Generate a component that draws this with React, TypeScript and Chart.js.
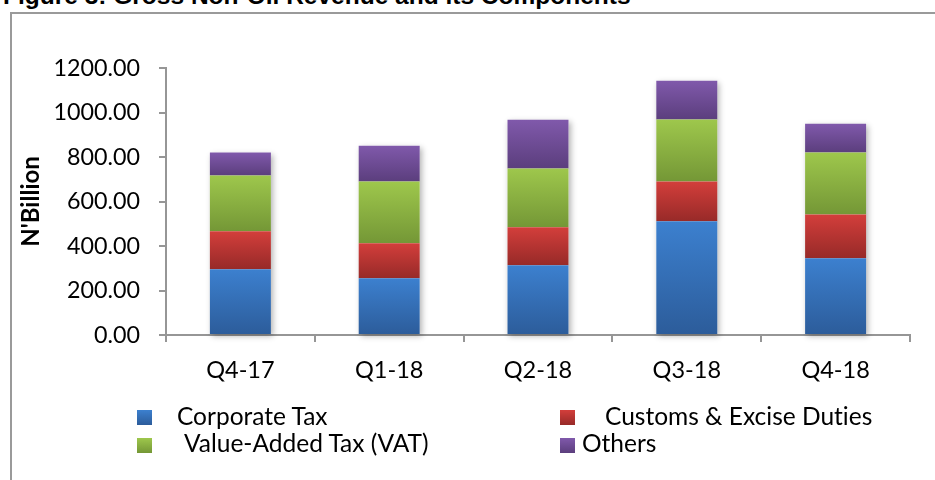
import React, { useEffect, useRef } from "react";
import { Chart, registerables } from "chart.js";

Chart.register(...registerables);

const categories = ["Q4-17", "Q1-18", "Q2-18", "Q3-18", "Q4-18"];
const corporateTax = [296, 255, 314, 511, 345];
const customsExcise = [170, 157, 170, 179, 197];
const valueAddedTax = [251, 278, 264, 278, 278];
const others = [103, 161, 219, 175, 129];

const seriesNames = [
  "Corporate Tax",
  "Customs & Excise Duties",
  "Value-Added Tax (VAT)",
  "Others",
];
const seriesValues = [corporateTax, customsExcise, valueAddedTax, others];
const seriesColors: [string, string][] = [
  ["#3c80cf", "#2c5c9a"],
  ["#d33e3b", "#972a28"],
  ["#9ec74c", "#749736"],
  ["#8059ab", "#5b3e7d"],
];

const yMin = 0;
const yMax = 1200;
const yStep = 200;

const titleText = "Figure 3: Gross Non-Oil Revenue and its Components";
const yTitle = "N'Billion";

function gradientFor(di: number) {
  return (ctx: any) => {
    const [topC, botC] = seriesColors[di];
    if (ctx.type !== "data") return topC;
    const chart = ctx.chart;
    const y = chart.scales && chart.scales.y;
    if (!y || !chart.chartArea) return topC;
    const i = ctx.dataIndex;
    let base = 0;
    for (let d = 0; d < di; d++) base += seriesValues[d][i];
    const top = base + seriesValues[di][i];
    const y0 = y.getPixelForValue(top);
    const y1 = y.getPixelForValue(base);
    if (!isFinite(y0) || !isFinite(y1) || y0 === y1) return topC;
    const g = chart.ctx.createLinearGradient(0, y0, 0, y1);
    g.addColorStop(0, topC);
    g.addColorStop(1, botC);
    return g;
  };
}

const shadowPlugin = {
  id: "barShadow",
  beforeDatasetsDraw(chart: any) {
    const first = chart.getDatasetMeta(0).data;
    const last = chart.getDatasetMeta(seriesValues.length - 1).data;
    const c = chart.ctx;
    c.save();
    c.shadowColor = "rgba(0,0,0,0.30)";
    c.shadowBlur = 6;
    c.shadowOffsetX = 2;
    c.shadowOffsetY = 2;
    c.fillStyle = "#ffffff";
    for (let i = 0; i < first.length; i++) {
      const b = first[i];
      const t = last[i];
      if (!b || !t) continue;
      c.fillRect(b.x - b.width / 2, t.y, b.width, b.base - t.y);
    }
    c.restore();
  },
};

export default function App() {
  const ref = useRef<HTMLCanvasElement>(null);

  useEffect(() => {
    if (!ref.current) return;
    const axisColor = "#969696";
    const chart = new Chart(ref.current, {
      type: "bar",
      data: {
        labels: categories,
        datasets: seriesValues.map((vals, di) => ({
          label: seriesNames[di],
          data: vals,
          backgroundColor: gradientFor(di),
          borderWidth: 0,
          categoryPercentage: 1,
          barPercentage: 0.41,
        })),
      },
      plugins: [shadowPlugin],
      options: {
        animation: false,
        responsive: false,
        devicePixelRatio: 1,
        layout: { padding: { left: 0, right: 25, top: 68, bottom: 0 } },
        plugins: {
          legend: { display: false },
          tooltip: { enabled: false },
          title: { display: false },
        },
        scales: {
          x: {
            stacked: true,
            afterFit: (s: any) => {
              s.height = 145;
            },
            grid: {
              offset: true,
              drawOnChartArea: false,
              drawTicks: true,
              tickLength: 7,
              color: axisColor,
              lineWidth: 2,
            },
            border: { display: true, color: axisColor, width: 2 },
            ticks: {
              color: "#000",
              padding: 14,
              font: { family: "Lato", size: 23.5 },
              maxRotation: 0,
            },
          },
          y: {
            stacked: true,
            min: yMin,
            max: yMax,
            afterFit: (s: any) => {
              s.width = 166;
            },
            grid: {
              drawOnChartArea: false,
              drawTicks: true,
              tickLength: 7,
              color: axisColor,
              lineWidth: 2,
            },
            border: { display: true, color: axisColor, width: 2 },
            ticks: {
              stepSize: yStep,
              color: "#000",
              padding: 19,
              font: { family: "Lato", size: 23.3 },
              callback: (v: any) => Number(v).toFixed(2),
            },
            title: {
              display: true,
              text: yTitle,
              color: "#000",
              font: { family: "Lato", size: 24, weight: "bold" },
              padding: { top: 17, bottom: 0 },
            },
          },
        },
      } as any,
    });
    return () => chart.destroy();
  }, []);

  const legendItems = [
    { si: 0, box: 137, text: 177, top: 401, boxTop: 410 },
    { si: 1, box: 560, text: 605, top: 401, boxTop: 410 },
    { si: 2, box: 137, text: 184, top: 428, boxTop: 438 },
    { si: 3, box: 560, text: 582, top: 428, boxTop: 438 },
  ];

  return (
    <div
      style={{
        position: "fixed",
        left: 0,
        top: 0,
        width: 935,
        height: 480,
        overflow: "hidden",
        background: "#fff",
      }}
    >
      <div
        style={{
          position: "absolute",
          left: 10,
          top: 12,
          width: 1000,
          height: 600,
          border: "2px solid #9a9a9a",
          boxSizing: "border-box",
        }}
      />
      <div
        style={{
          position: "absolute",
          left: 3,
          top: -16,
          fontFamily: "'Liberation Sans', Arial, sans-serif",
          fontWeight: "bold",
          fontSize: 24.5,
          lineHeight: "24.5px",
          whiteSpace: "nowrap",
          color: "#000",
        }}
      >
        {titleText}
      </div>
      <canvas
        ref={ref}
        width={935}
        height={480}
        style={{ position: "absolute", left: 0, top: 0, width: 935, height: 480 }}
      />
      {legendItems.map((it) => (
        <React.Fragment key={it.si}>
          <div
            style={{
              position: "absolute",
              left: it.box,
              top: it.boxTop,
              width: 15,
              height: 15,
              background: `linear-gradient(${seriesColors[it.si][0]}, ${seriesColors[it.si][1]})`,
            }}
          />
          <div
            style={{
              position: "absolute",
              left: it.text,
              top: it.top,
              fontFamily: "Lato",
              fontSize: 24.5,
              lineHeight: "30px",
              whiteSpace: "nowrap",
              fontVariantLigatures: "none",
              color: "#000",
            }}
          >
            {seriesNames[it.si]}
          </div>
        </React.Fragment>
      ))}
    </div>
  );
}
